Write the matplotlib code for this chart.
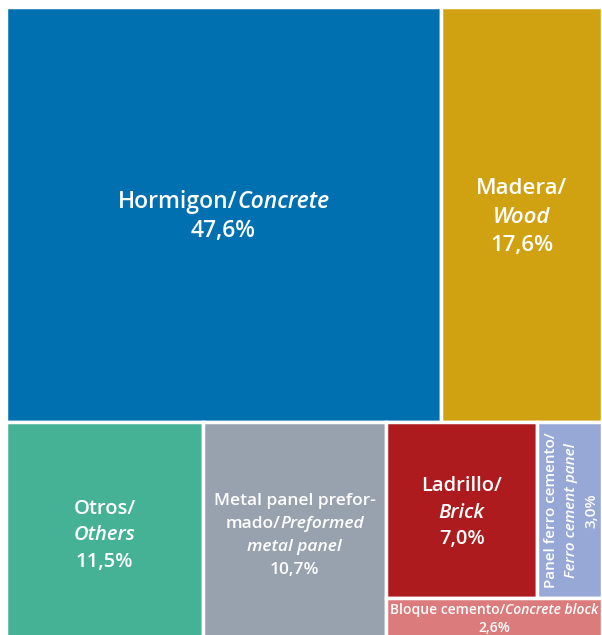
import matplotlib
matplotlib.use("Agg")
import matplotlib.pyplot as plt
from matplotlib.patches import Rectangle

plt.rcParams["font.family"] = ["Open Sans", "DejaVu Sans"]

# data ("*...*" marks the english, italic part of a label)
labels = [
    ["Hormigon/*Concrete*"],
    ["Madera/", "*Wood*"],
    ["Otros/", "*Others*"],
    ["Metal panel prefor-", "mado/*Preformed*", "*metal panel*"],
    ["Ladrillo/", "*Brick*"],
    ["Panel ferro cemento/", "*Ferro cement panel*"],
    ["Bloque cemento/*Concrete block*"],
]
shares = [47.6, 17.6, 11.5, 10.7, 7.0, 3.0, 2.6]
colors = ["#0070B1", "#D0A111", "#45B295", "#98A2AF", "#AD1B1E", "#97A8D6", "#DC7B7B"]

# nesting of the treemap: ('h', ...) splits left->right, ('v', ...) top->bottom
layout = ("v", [("h", [0, 1]),
                ("h", [2, 3, ("v", [("h", [4, 5]), 6])])])


def node_size(node):
    if isinstance(node, int):
        return shares[node]
    return sum(node_size(c) for c in node[1])


def place(node, x, y, w, h, out):
    if isinstance(node, int):
        out[node] = (x, y, w, h)
        return
    direction, children = node
    total = node_size(node)
    pos = 0.0
    for c in children:
        frac = node_size(c) / total
        if direction == "h":
            place(c, x + pos * w, y, w * frac, h, out)
        else:
            place(c, x, y + pos * h, w, h * frac, out)
        pos += frac


def split_line(line):
    parts = line.split("*")
    return [(p, "italic" if k % 2 else "normal") for k, p in enumerate(parts) if p]


rects = {}
place(layout, 0, 0, 1, 1, rects)

fig = plt.figure(figsize=(6.02, 6.35), dpi=100)
ax = fig.add_axes([6 / 602, -9 / 635, 596 / 602, 637 / 635])
ax.set_xlim(0, 1)
ax.set_ylim(1, 0)
ax.axis("off")
renderer = fig.canvas.get_renderer()


def draw_label(cx, cy, lines, size, pitch, rotate=False, lift=0):
    px = size * 100 / 72
    step = px * pitch
    n = len(lines)
    for k, segs in enumerate(lines):
        off = (k - (n - 1) / 2) * step - lift
        widths = []
        for s, style in segs:
            t = ax.text(0, 0, s, fontsize=size, fontstyle=style, fontweight="semibold")
            widths.append(t.get_window_extent(renderer).width)
            t.remove()
        start = -sum(widths) / 2
        for (s, style), wd in zip(segs, widths):
            if rotate:
                dxy = (off + 0.36 * px, start)
            else:
                dxy = (start, -off - 0.36 * px)
            ax.annotate(s, (cx, cy), xytext=dxy, textcoords="offset pixels",
                        ha="left", va="baseline", rotation=90 if rotate else 0,
                        rotation_mode="anchor", color="white", fontsize=size,
                        fontstyle=style, fontweight="semibold")
            start += wd


sizes = [16.5, 16, 14.5, 12.5, 14.5, 11, 10]
pitches = [1.27, 1.27, 1.3, 1.32, 1.3, 1.35, 1.3]
for i in range(len(shares)):
    x, y, w, h = rects[i]
    ax.add_patch(Rectangle((x, y), w, h, facecolor=colors[i], edgecolor="white", linewidth=2.5))
    pct = f"{shares[i]:.1f}%".replace(".", ",")
    lines = [split_line(ln) for ln in labels[i]] + [[(pct, "normal")]]
    draw_label(x + w / 2, y + h / 2, lines, sizes[i], pitches[i], rotate=(i == 5),
               lift=3 if i == 6 else 0)

fig.savefig("out.png", dpi=100)
